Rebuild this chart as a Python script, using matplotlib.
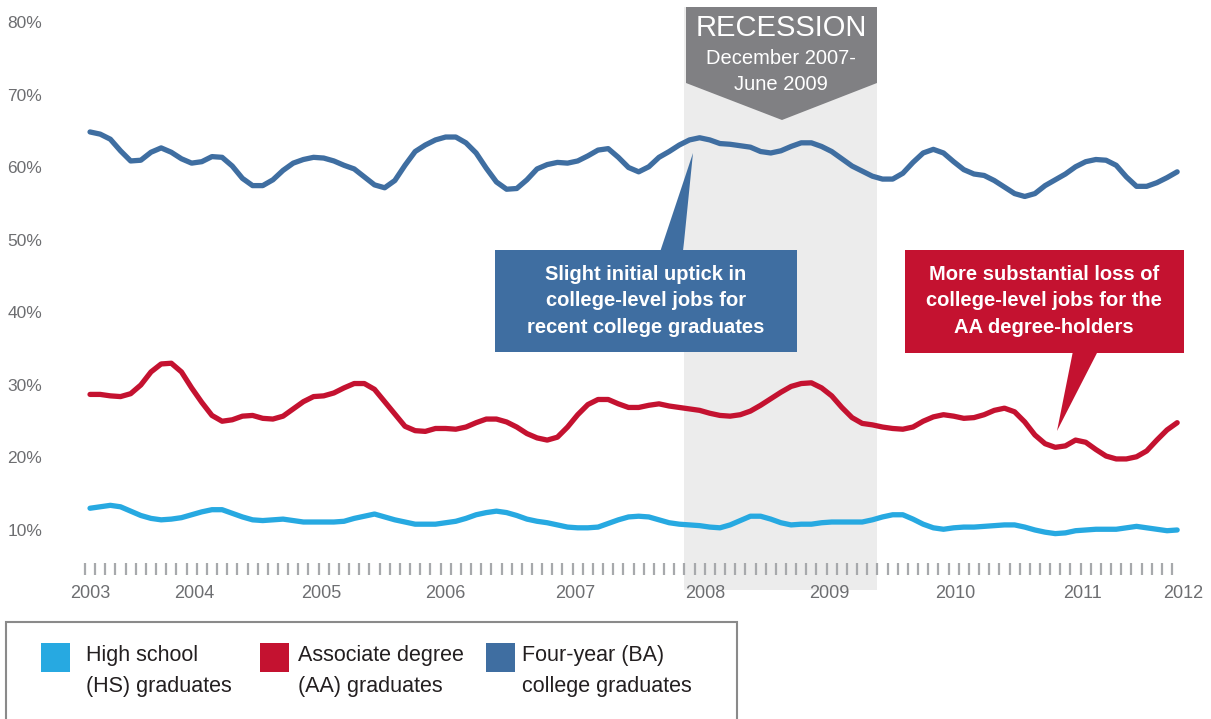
import numpy as np
import matplotlib
matplotlib.use('Agg')
import matplotlib.pyplot as plt
from matplotlib.patches import Polygon, Rectangle

plt.rcParams['font.family'] = ['Liberation Sans', 'DejaVu Sans']

# Monthly share of jobs that are "college-level", Jan 2003 - Dec 2011
months = np.arange(108)

hs = [13.0, 13.2, 13.4, 13.2, 12.6, 12.0, 11.6, 11.4, 11.5, 11.7, 12.1, 12.5,
      12.8, 12.8, 12.3, 11.8, 11.4, 11.3, 11.4, 11.5, 11.3, 11.1, 11.1, 11.1,
      11.1, 11.2, 11.6, 11.9, 12.2, 11.8, 11.4, 11.1, 10.8, 10.8, 10.8, 11.0,
      11.2, 11.6, 12.1, 12.4, 12.6, 12.4, 12.0, 11.5, 11.2, 11.0, 10.7, 10.4,
      10.3, 10.3, 10.4, 10.9, 11.4, 11.8, 11.9, 11.8, 11.4, 11.0, 10.8, 10.7,
      10.6, 10.4, 10.3, 10.7, 11.3, 11.9, 11.9, 11.5, 11.0, 10.7, 10.8, 10.8,
      11.0, 11.1, 11.1, 11.1, 11.1, 11.4, 11.8, 12.1, 12.1, 11.5, 10.8, 10.3,
      10.1, 10.3, 10.4, 10.4, 10.5, 10.6, 10.7, 10.7, 10.4, 10.0, 9.7, 9.5,
      9.6, 9.9, 10.0, 10.1, 10.1, 10.1, 10.3, 10.5, 10.3, 10.1, 9.9, 10.0]

aa = [28.7, 28.7, 28.5, 28.4, 28.8, 30.0, 31.8, 32.9, 33.0, 31.8, 29.6, 27.6,
      25.8, 25.0, 25.2, 25.7, 25.8, 25.4, 25.3, 25.7, 26.7, 27.7, 28.4, 28.5,
      28.9, 29.6, 30.2, 30.2, 29.4, 27.7, 26.0, 24.3, 23.7, 23.6, 24.0, 24.0,
      23.9, 24.2, 24.8, 25.3, 25.3, 24.9, 24.2, 23.3, 22.7, 22.4, 22.8, 24.2,
      25.9, 27.3, 28.0, 28.0, 27.4, 26.9, 26.9, 27.2, 27.4, 27.1, 26.9, 26.7,
      26.5, 26.1, 25.8, 25.7, 25.9, 26.4, 27.2, 28.1, 29.0, 29.8, 30.2, 30.3,
      29.6, 28.5, 26.9, 25.5, 24.7, 24.5, 24.2, 24.0, 23.9, 24.2, 25.0, 25.6,
      25.9, 25.7, 25.4, 25.5, 25.9, 26.5, 26.8, 26.3, 24.9, 23.1, 21.9, 21.4,
      21.6, 22.4, 22.1, 21.1, 20.2, 19.8, 19.8, 20.1, 20.9, 22.4, 23.8, 24.8]

ba = [64.9, 64.6, 63.9, 62.3, 60.9, 61.0, 62.1, 62.7, 62.1, 61.2, 60.6, 60.8,
      61.5, 61.4, 60.2, 58.5, 57.5, 57.5, 58.3, 59.6, 60.6, 61.1, 61.4, 61.3,
      60.9, 60.3, 59.8, 58.7, 57.6, 57.2, 58.2, 60.3, 62.2, 63.1, 63.8, 64.2,
      64.2, 63.4, 62.0, 59.9, 58.0, 57.0, 57.1, 58.3, 59.8, 60.4, 60.7, 60.6,
      60.9, 61.6, 62.4, 62.6, 61.4, 60.0, 59.4, 60.1, 61.4, 62.2, 63.1, 63.8,
      64.1, 63.8, 63.3, 63.2, 63.0, 62.8, 62.2, 62.0, 62.3, 62.9, 63.4, 63.4,
      62.9, 62.2, 61.2, 60.2, 59.5, 58.8, 58.4, 58.4, 59.2, 60.7, 62.0, 62.5,
      62.0, 60.8, 59.7, 59.1, 58.9, 58.2, 57.3, 56.4, 56.0, 56.4, 57.5, 58.3,
      59.1, 60.1, 60.8, 61.1, 61.0, 60.3, 58.7, 57.4, 57.4, 57.9, 58.6, 59.4]

years = ['2003', '2004', '2005', '2006', '2007', '2008', '2009', '2010', '2011', '2012']
year_pos = [0, 10.3, 22.8, 35.0, 47.8, 60.6, 72.8, 85.2, 97.7, 107.6]
yticks = [10, 20, 30, 40, 50, 60, 70, 80]
recession = (58.5, 77.5)  # Dec 2007 - Jun 2009

labels = ['High school\n(HS) graduates', 'Associate degree\n(AA) graduates',
          'Four-year (BA)\ncollege graduates']
colors = ['#27a9e1', '#c41230', '#3f6ea1']

W, H = 1211, 719
fig = plt.figure(figsize=(W / 100, H / 100), dpi=100)
ax = fig.add_axes([0, 0, 1, 1])
ax.set_xlim(-8.86, 110.33)
ax.set_ylim(-16.07, 83.10)


def fxy(x, y):
    return (x / W, 1 - y / H)


# recession shading
ax.axvspan(*recession, ymin=1 - 590 / H, ymax=1 - 7 / H, color='#ececec', zorder=0, lw=0)

for vals, c in zip([hs, aa, ba], colors):
    ax.plot(months, vals, color=c, lw=3.8, solid_capstyle='round',
            solid_joinstyle='round', zorder=3)

# axes styling
for s in ax.spines.values():
    s.set_color('none')
ax.spines['bottom'].set_position(('data', 3.79))
ax.spines['left'].set_position(('data', -4.72))
ax.set_yticks(yticks, [f'{v}%' for v in yticks])
ax.tick_params(axis='y', length=0, pad=0, labelsize=12.5, labelcolor='#6d6e71')
ax.set_xticks(year_pos, years)
ax.set_xticks(months - 0.5, minor=True)
ax.tick_params(axis='x', which='major', length=0, pad=7, labelsize=13, labelcolor='#6d6e71')
ax.tick_params(axis='x', which='minor', direction='in', length=8.6, width=1.6, color='#a7a9ac')

# recession header
hdr = Polygon([fxy(686, 7), fxy(877, 7), fxy(877, 83), fxy(782, 120), fxy(686, 83)],
              closed=True, transform=fig.transFigure, color='#808083', lw=0, zorder=4)
fig.add_artist(hdr)
fig.text(*fxy(781, 28), 'RECESSION', color='white', fontsize=21, ha='center', va='center', zorder=6)
fig.text(*fxy(781, 58), 'December 2007-', color='white', fontsize=14.5, ha='center', va='center', zorder=6)
fig.text(*fxy(781, 84), 'June 2009', color='white', fontsize=14.5, ha='center', va='center', zorder=6)

# callouts
blue = colors[2]
red = colors[1]
fig.add_artist(Rectangle(fxy(495, 352), 302 / W, 102 / H, transform=fig.transFigure,
                         color=blue, lw=0, zorder=5))
fig.add_artist(Polygon([fxy(660, 252), fxy(683, 252), fxy(693, 153)], closed=True,
                       transform=fig.transFigure, color=blue, lw=0, zorder=5))
fig.text(*fxy(646, 301), 'Slight initial uptick in\ncollege-level jobs for\nrecent college graduates',
         color='white', fontsize=14.5, fontweight='bold', ha='center', va='center',
         linespacing=1.52, zorder=6)

fig.add_artist(Rectangle(fxy(905, 353), 279 / W, 103 / H, transform=fig.transFigure,
                         color=red, lw=0, zorder=5))
fig.add_artist(Polygon([fxy(1073, 351), fxy(1098, 351), fxy(1057, 431)], closed=True,
                       transform=fig.transFigure, color=red, lw=0, zorder=5))
fig.text(*fxy(1044, 301), 'More substantial loss of\ncollege-level jobs for the\nAA degree-holders',
         color='white', fontsize=14.5, fontweight='bold', ha='center', va='center',
         linespacing=1.52, zorder=6)

# legend box
fig.add_artist(Rectangle(fxy(6, 740), 731 / W, 118 / H, transform=fig.transFigure,
                         facecolor='none', edgecolor='#8a8a8a', lw=1.5))
for lab, c, sx, tx in zip(labels, colors, [41, 260, 486], [86, 298, 522]):
    fig.add_artist(Rectangle(fxy(sx, 672), 29 / W, 29 / H, transform=fig.transFigure,
                             color=c, lw=0))
    fig.text(*fxy(tx, 671), lab, fontsize=15.5, color='#231f20', ha='left', va='center',
             linespacing=1.65)

fig.savefig('out.png', dpi=100)
